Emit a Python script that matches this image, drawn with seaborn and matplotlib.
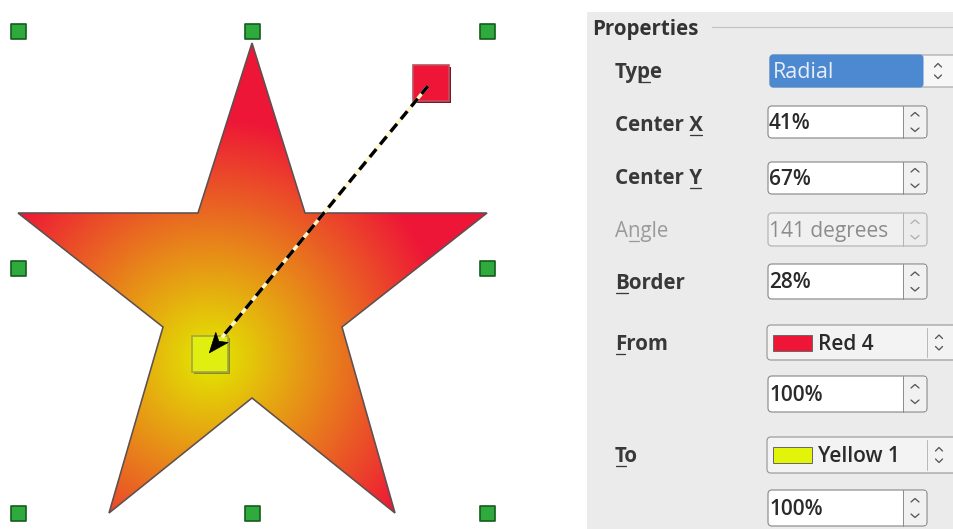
import numpy as np
import matplotlib
matplotlib.use("Agg")
import matplotlib.pyplot as plt
import seaborn as sns
import pandas as pd
from matplotlib.patches import Polygon, FancyBboxPatch, Rectangle

# ---------------- data ----------------
star_x = [252, 305, 487, 342, 395, 252, 109, 163, 18, 198]
star_y = [43, 213, 213, 327, 513, 398, 513, 327, 213, 213]
handle_x = [18, 252, 487, 18, 487, 18, 252, 487]
handle_y = [31, 31, 31, 268, 268, 513, 513, 513]
from_handle = [431, 83]

gradient_type = "Radial"
center_x_pct = 41
center_y_pct = 67
angle_deg = 141
border_pct = 28
from_name = "Red 4"
to_name = "Yellow 1"
from_intensity = 100
to_intensity = 100
from_rgb = [238, 22, 55]
to_rgb = [226, 234, 0]
swatch_from = "#ee1537"
swatch_to = "#e2f40a"

labels = ["Type", "Center X", "Center Y", "Angle", "Border", "From", "To"]
mnemonic = [2, 7, 7, 1, 0, 0, 0]
values = [gradient_type, f"{center_x_pct}%", f"{center_y_pct}%",
          f"{angle_deg} degrees", f"{border_pct}%", from_name, to_name]

# ---------------- figure ----------------
sns.set_theme(style="white")
plt.rcParams['font.family'] = ['Open Sans', 'DejaVu Sans']
W, H = 954, 529
fig = plt.figure(figsize=(W / 100, H / 100), dpi=100)
fig.patch.set_facecolor("white")
ax = fig.add_axes([0, 0, 1, 1])
ax.set_xlim(0, W)
ax.set_ylim(H, 0)
ax.axis("off")
PX = 0.72  # points per pixel
FS_LABEL = 14.8
FS_VALUE = 15

# ---- star with radial gradient ----
bx0, bx1 = min(star_x), max(star_x)
by0, by1 = min(star_y), max(star_y)
bw, bh = bx1 - bx0, by1 - by0
cx = bx0 + bw * center_x_pct / 100
cy = by0 + bh * center_y_pct / 100
radius = np.sqrt(bw ** 2 + bh ** 2) / 2 * (1 - border_pct / 100)
gx = np.arange(bx0, bx1 + 1) + 0.5
gy = np.arange(by0, by1 + 1) + 0.5
XX, YY = np.meshgrid(gx, gy)
t = np.clip(1 - np.hypot(XX - cx, YY - cy) / radius, 0, 1)[..., None]
c0 = np.array(from_rgb) / 255
c1 = np.array(to_rgb) / 255
img = c0 + (c1 - c0) * t
star = Polygon(np.column_stack([star_x, star_y]), closed=True, fc="none",
               ec="#5e5050", lw=1.6 * PX, zorder=3)
ax.add_patch(star)
im = ax.imshow(img, extent=(bx0, bx1 + 1, by1 + 1, by0), origin="upper",
               interpolation="bilinear", zorder=2, aspect="auto")
im.set_clip_path(star)
ax.set_xlim(0, W)
ax.set_ylim(H, 0)

# ---- selection handles ----
hdf = pd.DataFrame({"x": handle_x, "y": handle_y})
sns.scatterplot(data=hdf, x="x", y="y", marker="s", s=(15 * PX) ** 2,
                color="#2faa3c", edgecolor="#145c1e", linewidth=1.2,
                ax=ax, zorder=5, legend=False)
ax.set_xlabel("")
ax.set_ylabel("")

# ---- gradient handles and arrow ----
def handle(xc, yc, fc, ec, sh):
    s = 36
    ax.add_patch(Rectangle((xc - s / 2 + 2, yc - s / 2 + 2), s, s, fc=sh, ec="none", zorder=6))
    ax.add_patch(Rectangle((xc - s / 2, yc - s / 2), s, s, fc=fc, ec=ec, lw=1.2, zorder=6))

handle(from_handle[0], from_handle[1], swatch_from, "#c05060", "#7a1525")
handle(cx, cy - 4, "#e0ee10", "#a6a640", "#8c8c28")

sx, sy = from_handle[0] - 3, from_handle[1] + 3
tx, ty = cx - 1, cy - 5
vx, vy = tx - sx, ty - sy
L = np.hypot(vx, vy)
ux, uy = vx / L, vy / L
hl, hw = 20, 8
bxh, byh = tx - ux * hl, ty - uy * hl
ax.plot([sx, bxh], [sy, byh], color="#fff6c8", lw=3.4 * PX, zorder=7, solid_capstyle="butt")
ax.plot([sx, bxh], [sy, byh], color="black", lw=3.4 * PX, zorder=8,
        ls=(0, (3.0, 1.8)), dash_capstyle="butt")
ax.add_patch(Polygon([[tx, ty], [bxh + uy * hw, byh - ux * hw],
                      [bxh + ux * 5, byh + uy * 5],
                      [bxh - uy * hw, byh + ux * hw]],
                     closed=True, fc="black", ec="black", lw=0.5, zorder=9))

# ---- properties panel ----
ax.add_patch(Rectangle((587, 12), W - 587, H - 12, fc="#ebebeb", ec="none", zorder=1))
ax.text(592, 35, "Properties", fontsize=FS_LABEL, fontweight="bold", color="#333333",
        va="baseline", ha="left", zorder=10)
ax.plot([712, W], [27, 27], color="#c4c4c4", lw=1.2 * PX, zorder=10)

fig.canvas.draw()
renderer = fig.canvas.get_renderer()

def text_width(s, **kw):
    tt = ax.text(0, 0, s, **kw)
    w = tt.get_window_extent(renderer).width
    tt.remove()
    return w

def label(x, yb, s, idx, color="#383838", weight="bold"):
    kw = dict(fontsize=FS_LABEL, fontweight=weight, color=color, va="baseline", ha="left")
    ax.text(x, yb, s, zorder=10, **kw)
    x0 = x + (text_width(s[:idx], **kw) if idx > 0 else 0)
    x1 = x + text_width(s[:idx + 1], **kw)
    ax.plot([x0 + 1, x1 - 1], [yb + 3.5, yb + 3.5], color=color, lw=1.3 * PX, zorder=10)

def chev(xc, yc, up, color="#555555", w=4, h=3.5):
    d = -1 if up else 1
    ax.plot([xc - w, xc, xc + w], [yc, yc + d * h, yc], color=color, lw=1.3 * PX,
            zorder=12, solid_capstyle="round", solid_joinstyle="round")

def spinbox(y0, y1, text, disabled=False):
    x0, x1 = 768, 927
    yc = (y0 + y1) / 2
    fc = "#f0f0f0" if disabled else "white"
    ec = "#b4b4b4" if disabled else "#8e8e8e"
    ax.add_patch(FancyBboxPatch((x0, y0), x1 - x0, y1 - y0,
                                boxstyle="round,pad=0,rounding_size=4",
                                fc=fc, ec=ec, lw=1.2 * PX, zorder=10))
    ax.add_patch(Rectangle((903, y0 + 1), x1 - 904, y1 - y0 - 2,
                           fc="#f1f1f1" if not disabled else "#ececec", ec="none", zorder=11))
    ax.plot([903, 903], [y0, y1], color=ec, lw=1 * PX, zorder=11)
    cc = "#b0b0b0" if disabled else "#555555"
    chev(915, yc - 6, True, cc)
    chev(915, yc + 6, False, cc)
    ax.text(x0 + 1, yc + 7, text, fontsize=FS_VALUE,
            fontweight="normal" if disabled else "semibold",
            color="#8c8c8c" if disabled else "#2a2a2a", va="baseline", ha="left", zorder=12)

def combo_icon(xc, yc):
    chev(xc, yc - 4, True, "#555555", 3.5, 3.5)
    chev(xc, yc + 4, False, "#555555", 3.5, 3.5)

# Type combo (selected / highlighted)
ax.add_patch(FancyBboxPatch((770, 55), W + 10 - 770, 32, boxstyle="round,pad=0,rounding_size=4",
                            fc="#f6f6f6", ec="#a8a8a8", lw=1.2 * PX, zorder=10))
ax.add_patch(FancyBboxPatch((770, 55), 923 - 770, 32, boxstyle="round,pad=0,rounding_size=3",
                            fc="#4c89d1", ec="#4c89d1", lw=1 * PX, zorder=11))
ax.text(773, 78, values[0], fontsize=FS_VALUE + 0.5, color="#e6eef8", va="baseline",
        ha="left", zorder=12)
combo_icon(938, 71)

label_y = [78, 131, 184, 237, 289, 350, 462]
for i, (s, m, yb) in enumerate(zip(labels, mnemonic, label_y)):
    if s == "Angle":
        label(615, yb, s, m, color="#9a9a9a", weight="normal")
    else:
        label(615, yb, s, m)

spinbox(106, 138, values[1])
spinbox(162, 194, values[2])
spinbox(213, 246, values[3], disabled=True)
spinbox(264, 299, values[4])
spinbox(376, 412, f"{from_intensity}%")
spinbox(490, 526, f"{to_intensity}%")

def colorbox(y0, y1, sw, name):
    yc = (y0 + y1) / 2
    ax.add_patch(FancyBboxPatch((767, y0), W + 10 - 767, y1 - y0, boxstyle="round,pad=0,rounding_size=4",
                                fc="#f3f3f3", ec="#9a9a9a", lw=1.2 * PX, zorder=10))
    ax.add_patch(Rectangle((773, yc - 8), 39, 16, fc=sw, ec="#6a6a6a", lw=1 * PX, zorder=11))
    ax.text(818, yc + 7, name, fontsize=FS_VALUE, fontweight="semibold", color="#2a2a2a",
            va="baseline", ha="left", zorder=12)
    ax.plot([927, 927], [y0 + 3, y1 - 3], color="#b8b8b8", lw=1 * PX, zorder=11)
    combo_icon(939, yc)

colorbox(325, 360, swatch_from, values[5])
colorbox(437, 473, swatch_to, values[6])

fig.savefig("out.png", dpi=100)
